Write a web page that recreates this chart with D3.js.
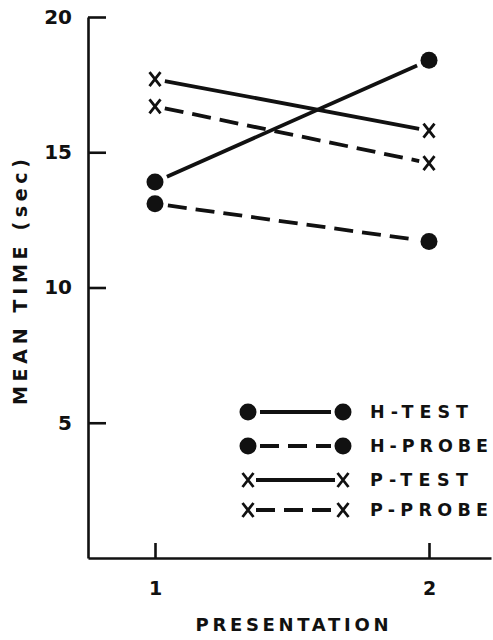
<!DOCTYPE html>
<html>
<head>
<meta charset="utf-8">
<script src="https://cdn.jsdelivr.net/npm/d3@7/dist/d3.min.js"></script>
<style>
  html, body { margin: 0; padding: 0; background: #fff; }
  svg { display: block; }
  text { font-family: "DejaVu Sans", sans-serif; font-weight: bold; fill: #111; }
</style>
</head>
<body>
<svg id="chart" width="493" height="640"></svg>
<script>
// ---- data ----
const presentations = [1, 2];
const seriesNames = ["H-TEST", "H-PROBE", "P-TEST", "P-PROBE"];
const hTest = [13.9, 18.4];
const hProbe = [13.1, 11.7];
const pTest = [17.7, 15.8];
const pProbe = [16.7, 14.6];
const yTicks = [5, 10, 15, 20];
const xTicks = [1, 2];
const yTitle = "MEAN TIME (sec)";
const xTitle = "PRESENTATION";

// ---- styles (by series index) ----
const seriesValues = [hTest, hProbe, pTest, pProbe];
const markerKind = ["dot", "dot", "x", "x"];
const dashed = [false, true, false, true];
const ink = "#111";

const svg = d3.select("#chart");

const y = d3.scaleLinear().domain([0, 20]).range([558, 17]);
const x = d3.scaleLinear().domain([1, 2]).range([155, 429]);
const axisX0 = 88, axisX1 = 491;
const xAxisScale = x.copy().domain([x.invert(axisX0), x.invert(axisX1)]).range([axisX0, axisX1]);

// y axis (ticks point inward)
const yAxis = svg.append("g")
  .attr("transform", `translate(${axisX0},0)`)
  .call(d3.axisLeft(y).tickValues(yTicks).tickFormat(d3.format("d"))
    .tickSizeInner(-18).tickSizeOuter(0).tickPadding(16));
yAxis.select(".domain").attr("stroke", ink).attr("stroke-width", 2.6);
yAxis.selectAll(".tick line").attr("stroke", ink).attr("stroke-width", 2.6);
yAxis.selectAll(".tick text").style("font-size", "20px").attr("fill", ink)
  .style("font-family", "'DejaVu Sans', sans-serif").style("font-weight", "bold");

// x axis
const xAxis = svg.append("g")
  .attr("transform", `translate(0,${y(0)})`)
  .call(d3.axisBottom(xAxisScale).tickValues(xTicks).tickFormat(d3.format("d"))
    .tickSizeInner(-15).tickSizeOuter(0).tickPadding(24));
xAxis.select(".domain").attr("stroke", ink).attr("stroke-width", 2.6);
xAxis.selectAll(".tick line").attr("stroke", ink).attr("stroke-width", 2.6);
xAxis.selectAll(".tick text").style("font-size", "19px").attr("fill", ink)
  .style("font-family", "'DejaVu Sans', sans-serif").style("font-weight", "bold");

// axis titles
svg.append("text")
  .attr("x", 292).attr("y", 631)
  .attr("text-anchor", "middle")
  .attr("textLength", 193).attr("lengthAdjust", "spacing")
  .style("font-size", "18px")
  .text(xTitle);

svg.append("text")
  .attr("transform", "translate(27,282) rotate(-90)")
  .attr("text-anchor", "middle")
  .attr("textLength", 246).attr("lengthAdjust", "spacing")
  .style("font-size", "19px")
  .text(yTitle);

// ---- marker helpers ----
function drawMarker(g, kind, cx, cy) {
  if (kind === "dot") {
    g.append("circle").attr("cx", cx).attr("cy", cy).attr("r", 8.5).attr("fill", ink);
  } else {
    const w = 5.5, h = 7;
    g.append("path")
      .attr("d", `M${cx - w},${cy - h}L${cx + w},${cy + h}M${cx + w},${cy - h}L${cx - w},${cy + h}`)
      .attr("stroke", ink).attr("stroke-width", 2.8).attr("fill", "none");
  }
}
function gapSegment(g, x1, y1, x2, y2, gap, isDashed) {
  const dx = x2 - x1, dy = y2 - y1, len = Math.hypot(dx, dy);
  const ux = dx / len, uy = dy / len;
  g.append("line")
    .attr("x1", x1 + ux * gap).attr("y1", y1 + uy * gap)
    .attr("x2", x2 - ux * gap).attr("y2", y2 - uy * gap)
    .attr("stroke", ink).attr("stroke-width", 3.8)
    .attr("stroke-dasharray", isDashed ? "19,9" : null);
}

// ---- series ----
const plot = svg.append("g");
seriesValues.forEach((vals, i) => {
  const g = plot.append("g");
  const gap = markerKind[i] === "dot" ? 13 : 10;
  for (let k = 0; k < vals.length - 1; k++) {
    gapSegment(g, x(presentations[k]), y(vals[k]), x(presentations[k + 1]), y(vals[k + 1]), gap, dashed[i]);
  }
  vals.forEach((v, k) => drawMarker(g, markerKind[i], x(presentations[k]), y(v)));
});

// ---- legend ----
const legendY = [412, 446, 480, 510];
const legend = svg.append("g");
seriesNames.forEach((name, i) => {
  const g = legend.append("g");
  const x1 = 248, x2 = 343, yy = legendY[i];
  const gap = markerKind[i] === "dot" ? 12 : 8;
  gapSegment(g, x1, yy, x2, yy, gap, dashed[i]);
  drawMarker(g, markerKind[i], x1, yy);
  drawMarker(g, markerKind[i], x2, yy);
  g.append("text")
    .attr("x", 370).attr("y", yy)
    .attr("dy", "0.36em")
    .attr("textLength", name.length === 6 ? 98 : 118).attr("lengthAdjust", "spacing")
    .style("font-size", "17.5px")
    .text(name);
});
</script>
</body>
</html>
